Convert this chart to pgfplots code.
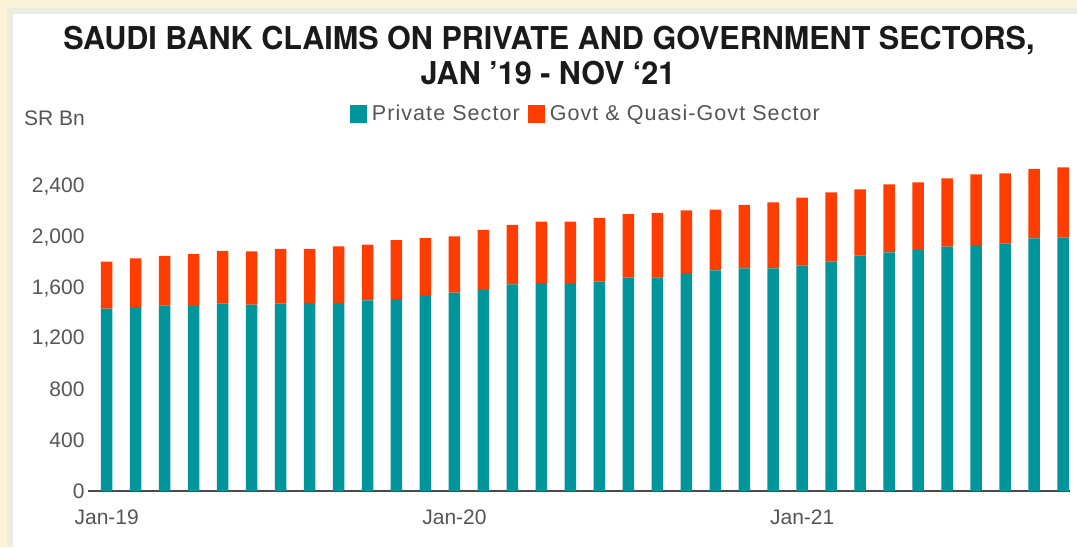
\documentclass[border=0pt]{standalone}
\usepackage{fontspec}
\usepackage{pgfplots}
\pgfplotsset{compat=1.18}
\setmainfont{Liberation Sans}
\newfontfamily\titlefont{TeX Gyre Heros}[FakeStretch=0.97]
\newfontfamily\legfont{Liberation Sans}[LetterSpace=5]
\definecolor{cream}{HTML}{FAF3D8}
\definecolor{borderc}{HTML}{E9EDE4}
\definecolor{tealc}{HTML}{00959B}
\definecolor{redc}{HTML}{FF3D00}
\definecolor{labc}{HTML}{555555}
\definecolor{titlec}{HTML}{1A1A1A}
\definecolor{axisc}{HTML}{4A4A4A}
\begin{document}
\begin{tikzpicture}[x=1pt,y=1pt]
\fill[cream] (0,0) rectangle (1077,547);
\fill[borderc] (7,0) rectangle (1077,539);
\fill[white] (13,0) rectangle (1077,533);
\node[font=\titlefont\bfseries\fontsize{31.5}{33}\selectfont, text=titlec, anchor=base, inner sep=0pt] at (549,497) {SAUDI BANK CLAIMS ON PRIVATE AND GOVERNMENT SECTORS,};
\node[font=\titlefont\bfseries\fontsize{31.5}{33}\selectfont, text=titlec, anchor=base, inner sep=0pt] at (548,462) {JAN ’19 - NOV ‘21};
\node[font=\fontsize{21}{21}\selectfont, text=labc, anchor=base west, inner sep=0pt] at (24,421) {SR Bn};
\begin{axis}[
  at={(88pt,56pt)}, anchor=south west,
  scale only axis, width=982pt, height=329.5pt,
  xmin=-0.645, xmax=33.24, ymin=0, ymax=2600,
  ybar stacked, bar width=11.5pt,
  axis x line*=bottom, axis y line*=left,
  y axis line style={draw=none},
  x axis line style={draw=axisc, line width=1.4pt, -},
  major tick length=0pt,
  ytick={0,400,800,1200,1600,2000,2400},
  xtick={0,12,24}, xticklabels={Jan-19,Jan-20,Jan-21},
  /pgf/number format/assume math mode=true,
  tick label style={font=\fontsize{21}{21}\selectfont, text=labc},
  xticklabel style={yshift=-15pt},
  legend columns=2,
  legend style={at={(0.507,1.145)}, anchor=center, draw=none, fill=none,
    font=\legfont\fontsize{21.5}{21.5}\selectfont, text=labc,
    /tikz/every odd column/.append style={column sep=3pt},
    /tikz/every even column/.append style={column sep=6pt}},
]
\addplot[fill=tealc, draw=none, legend image code/.code={\fill[tealc] (0pt,-9pt) rectangle (17pt,9pt);}] coordinates {
(0,1440) (1,1445) (2,1465) (3,1460) (4,1480) (5,1470) (6,1480) (7,1485) (8,1485) (9,1505)
(10,1515) (11,1545) (12,1565) (13,1585) (14,1630) (15,1640) (16,1640) (17,1655) (18,1685) (19,1685)
(20,1720) (21,1740) (22,1757) (23,1757) (24,1778) (25,1809) (26,1857) (27,1883) (28,1900) (29,1928)
(30,1941) (31,1954) (32,1994) (33,1999)};
\addlegendentry{Private Sector}
\addplot[fill=redc, draw=none, legend image code/.code={\fill[redc] (0pt,-9pt) rectangle (17pt,9pt);}] coordinates {
(0,370) (1,390) (2,390) (3,410) (4,415) (5,420) (6,430) (7,425) (8,445) (9,440)
(10,465) (11,450) (12,445) (13,475) (14,470) (15,485) (16,485) (17,500) (18,500) (19,510)
(20,495) (21,480) (22,500) (23,521) (24,536) (25,548) (26,523) (27,537) (28,536) (29,539)
(30,558) (31,553) (32,547) (33,555)};
\addlegendentry{Govt \& Quasi-Govt Sector}
\end{axis}
\end{tikzpicture}
\end{document}
